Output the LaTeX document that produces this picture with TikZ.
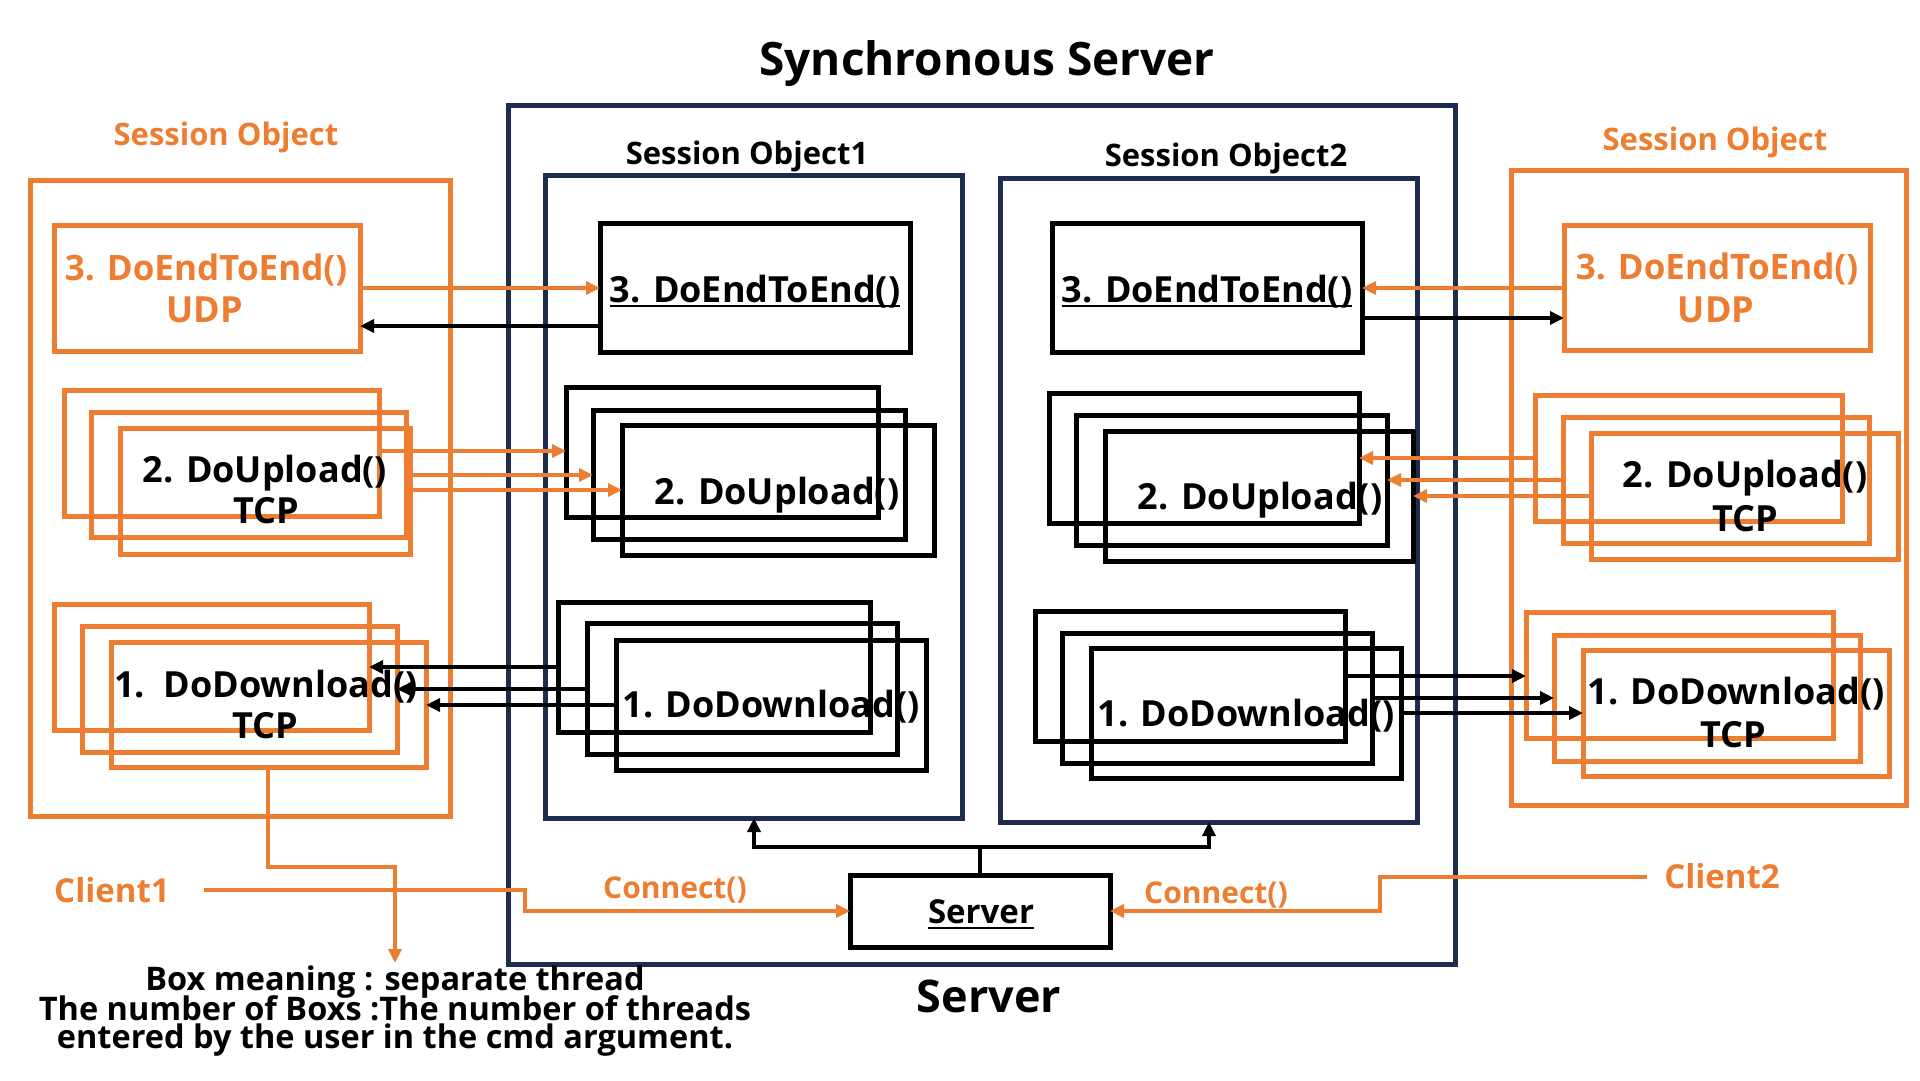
\documentclass[tikz,border=0pt]{standalone}
\usepackage{fontspec}
\setmainfont{Open Sans}
\usetikzlibrary{arrows.meta,fit}
\definecolor{org}{HTML}{ED7D31}
\definecolor{nvy}{RGB}{30,44,80}
\newcommand\rbox[6]{%
  \path (#3,#4) coordinate (#2-nw) (#5,#6) coordinate (#2-se);
  \node[#1, fit=(#2-nw)(#2-se)] (#2) {};}
\tikzset{
  bx/.style={draw, line width=5pt, inner sep=0pt, outer sep=0pt},
  obx/.style={bx, draw=org},
  kbx/.style={bx, draw=black},
  nbx/.style={bx, draw=nvy},
  tx/.style={inner sep=0pt, anchor=base, font=\bfseries\fontsize{36}{40}\selectfont},
  otx/.style={tx, text=org},
  lbl/.style={inner sep=0pt, anchor=base, font=\bfseries\fontsize{31}{36}\selectfont},
  tip/.style={-{Triangle[length=14pt,width=13pt]}},
  oarr/.style={tip, draw=org, line width=4pt},
  karr/.style={tip, draw=black, line width=4pt},
  kline/.style={draw=black, line width=4pt},
  uline/.style={line width=2pt},
}
\begin{document}
\begin{tikzpicture}[x=1pt,y=-1pt]
\useasboundingbox (0,0) rectangle (1920,1080);
% ---------- titles ----------
\node[tx, font=\bfseries\fontsize{46}{50}\selectfont] (title) at (987,75) {Synchronous Server};
\node[tx, font=\bfseries\fontsize{45}{50}\selectfont] (srvlbl) at (989,1012) {Server};
% ---------- server frame ----------
\rbox{nbx}{SRVO}{508}{105}{1455}{964}
\rbox{nbx}{SO1}{545}{175}{962}{818}
\rbox{nbx}{SO2}{1000}{178}{1417}{822}
\node[lbl] (so1l) at (747,164) {Session Object1};
\node[lbl] (so2l) at (1226,166) {Session Object2};
% ---------- session object 1 ----------
\rbox{kbx}{E1}{600}{223}{910}{352}
\node[tx] (e1t) at (755,302) {3. DoEndToEnd()};
\draw[uline] ([yshift=-4pt]e1t.base west) -- ([yshift=-4pt]e1t.base east);
\rbox{kbx}{U1A}{566}{387}{878}{517}
\rbox{kbx}{U1B}{593}{410}{905}{539}
\rbox{kbx}{U1C}{622}{425}{934}{555}
\node[tx] (u1t) at (777,504) {2. DoUpload()};
\rbox{kbx}{D1A}{558}{602}{870}{732}
\rbox{kbx}{D1B}{587}{623}{897}{754}
\rbox{kbx}{D1C}{616}{640}{926}{770}
\node[tx] (d1t) at (771,717) {1. DoDownload()};
% ---------- session object 2 ----------
\rbox{kbx}{E2}{1052}{223}{1362}{352}
\node[tx] (e2t) at (1207,302) {3. DoEndToEnd()};
\draw[uline] ([yshift=-4pt]e2t.base west) -- ([yshift=-4pt]e2t.base east);
\rbox{kbx}{U2A}{1049}{393}{1359}{523}
\rbox{kbx}{U2B}{1076}{415}{1387}{545}
\rbox{kbx}{U2C}{1105}{431}{1413}{561}
\node[tx] (u2t) at (1260,509) {2. DoUpload()};
\rbox{kbx}{D2A}{1035}{611}{1345}{741}
\rbox{kbx}{D2B}{1062}{633}{1372}{763}
\rbox{kbx}{D2C}{1091}{648}{1401}{778}
\node[tx] (d2t) at (1246,726) {1. DoDownload()};
% ---------- server box ----------
\rbox{kbx}{SRVB}{850}{875}{1110}{947}
\node[tx, font=\bfseries\fontsize{33}{36}\selectfont] (srvt) at (981,923) {Server};
\draw[uline] ([yshift=-5pt]srvt.base west) -- ([yshift=-5pt]srvt.base east);
\coordinate (J) at (980,847);
\draw[kline] (SRVB.north) -- (J);
\draw[karr] (J) -| (SO1.south -| 754,0);
\draw[karr] (J) -| (SO2.south -| 1209,0);
% ---------- left client session object ----------
\rbox{obx}{LSO}{30}{180}{450}{816}
\node[lbl, text=org] (lsol) at (226,145) {Session Object};
\rbox{obx}{LUDP}{54}{225}{360}{351}
\node[otx, font=\bfseries\fontsize{35}{40}\selectfont] (ludt1) at (206,280) {3. DoEndToEnd()};
\node[otx] (ludt2) at (205,322) {UDP};
\rbox{obx}{LUPA}{64}{390}{379}{516}
\rbox{obx}{LUPB}{91}{412}{406}{537}
\rbox{obx}{LUPC}{120}{428}{410}{554}
\node[tx] (lupt1) at (265,482) {2. DoUpload()};
\node[tx] (lupt2) at (266,523) {TCP};
\rbox{obx}{LDNA}{54}{604}{369}{730}
\rbox{obx}{LDNB}{82}{626}{397}{752}
\rbox{obx}{LDNC}{111}{642}{426}{767}
\node[tx] (ldnt1) at (266,697) {1.\ \ DoDownload()};
\node[tx] (ldnt2) at (265,738) {TCP};
% ---------- right client session object ----------
\rbox{obx}{RSO}{1511}{170}{1906}{805}
\node[lbl, text=org] (rsol) at (1715,150) {Session Object};
\rbox{obx}{RUDP}{1564}{225}{1870}{350}
\node[otx, font=\bfseries\fontsize{35}{40}\selectfont] (rudt1) at (1717,279) {3. DoEndToEnd()};
\node[otx] (rudt2) at (1716,322) {UDP};
\rbox{obx}{RUPA}{1535}{395}{1842}{521}
\rbox{obx}{RUPB}{1563}{417}{1869}{543}
\rbox{obx}{RUPC}{1591}{433}{1898}{559}
\node[tx] (rupt1) at (1745,487) {2. DoUpload()};
\node[tx] (rupt2) at (1745,531) {TCP};
\rbox{obx}{RDNA}{1526}{612}{1833}{738}
\rbox{obx}{RDNB}{1554}{635}{1860}{761}
\rbox{obx}{RDNC}{1583}{650}{1889}{776}
\node[tx] (rdnt1) at (1736,704) {1. DoDownload()};
\node[tx] (rdnt2) at (1733,747) {TCP};
% ---------- connectors left ----------
\draw[oarr] (LUDP.east |- 0,288) -- (E1.west |- 0,288);
\draw[karr] (E1.west |- 0,326) -- (LUDP.east |- 0,326);
\draw[oarr] (LUPA.east |- 0,451) -- (U1A.west |- 0,451);
\draw[oarr] (LUPC.east |- 0,475) -- (U1B.west |- 0,475);
\draw[oarr] (LUPC.east |- 0,490) -- (U1C.west |- 0,490);
\draw[karr] (D1A.west |- 0,667) -- (LDNA.east |- 0,667);
\draw[karr] (D1B.west |- 0,689) -- (LDNB.east |- 0,689);
\draw[karr] (D1C.west |- 0,705) -- (LDNC.east |- 0,705);
% ---------- connectors right ----------
\draw[oarr] (RUDP.west |- 0,288) -- (E2.east |- 0,288);
\draw[karr] (E2.east |- 0,318) -- (RUDP.west |- 0,318);
\draw[oarr] (RUPA.west |- 0,458) -- (U2A.east |- 0,458);
\draw[oarr] (RUPB.west |- 0,480) -- (U2B.east |- 0,480);
\draw[oarr] (RUPC.west |- 0,496) -- (U2C.east |- 0,496);
\draw[karr] (D2A.east |- 0,676) -- (RDNA.west |- 0,676);
\draw[karr] (D2B.east |- 0,698) -- (RDNB.west |- 0,698);
\draw[karr] (D2C.east |- 0,713) -- (RDNC.west |- 0,713);
% ---------- clients ----------
\node[lbl, text=org, font=\bfseries\fontsize{33}{36}\selectfont] (c1) at (112,902) {Client1};
\node[lbl, text=org, font=\bfseries\fontsize{33}{36}\selectfont] (c2) at (1722,888) {Client2};
\coordinate (c1s) at (204,890);
\coordinate (c2s) at (1647,877);
\draw[oarr] (c1s) -- (525,890) |- (SRVB.west |- 0,911);
\draw[oarr] (c2s) -- (1380,877) |- (SRVB.east |- 0,911);
\node[lbl, text=org, font=\bfseries\fontsize{30}{34}\selectfont] (con1) at (675,898) {Connect()};
\node[lbl, text=org, font=\bfseries\fontsize{30}{34}\selectfont] (con2) at (1216,903) {Connect()};
% ---------- note ----------
\node[lbl, font=\bfseries\fontsize{32.5}{36}\selectfont] (n1) at (395,990) {Box meaning : separate thread};
\node[lbl, font=\bfseries\fontsize{32.5}{36}\selectfont] (n2) at (395,1020) {The number of Boxs :The number of threads};
\node[lbl, font=\bfseries\fontsize{32.5}{36}\selectfont] (n3) at (395,1048) {entered by the user in the cmd argument.};
\coordinate (nt) at (395,963);
\draw[oarr] (LDNC.south -| 268,0) -- (268,867) -| (nt);
\end{tikzpicture}
\end{document}
